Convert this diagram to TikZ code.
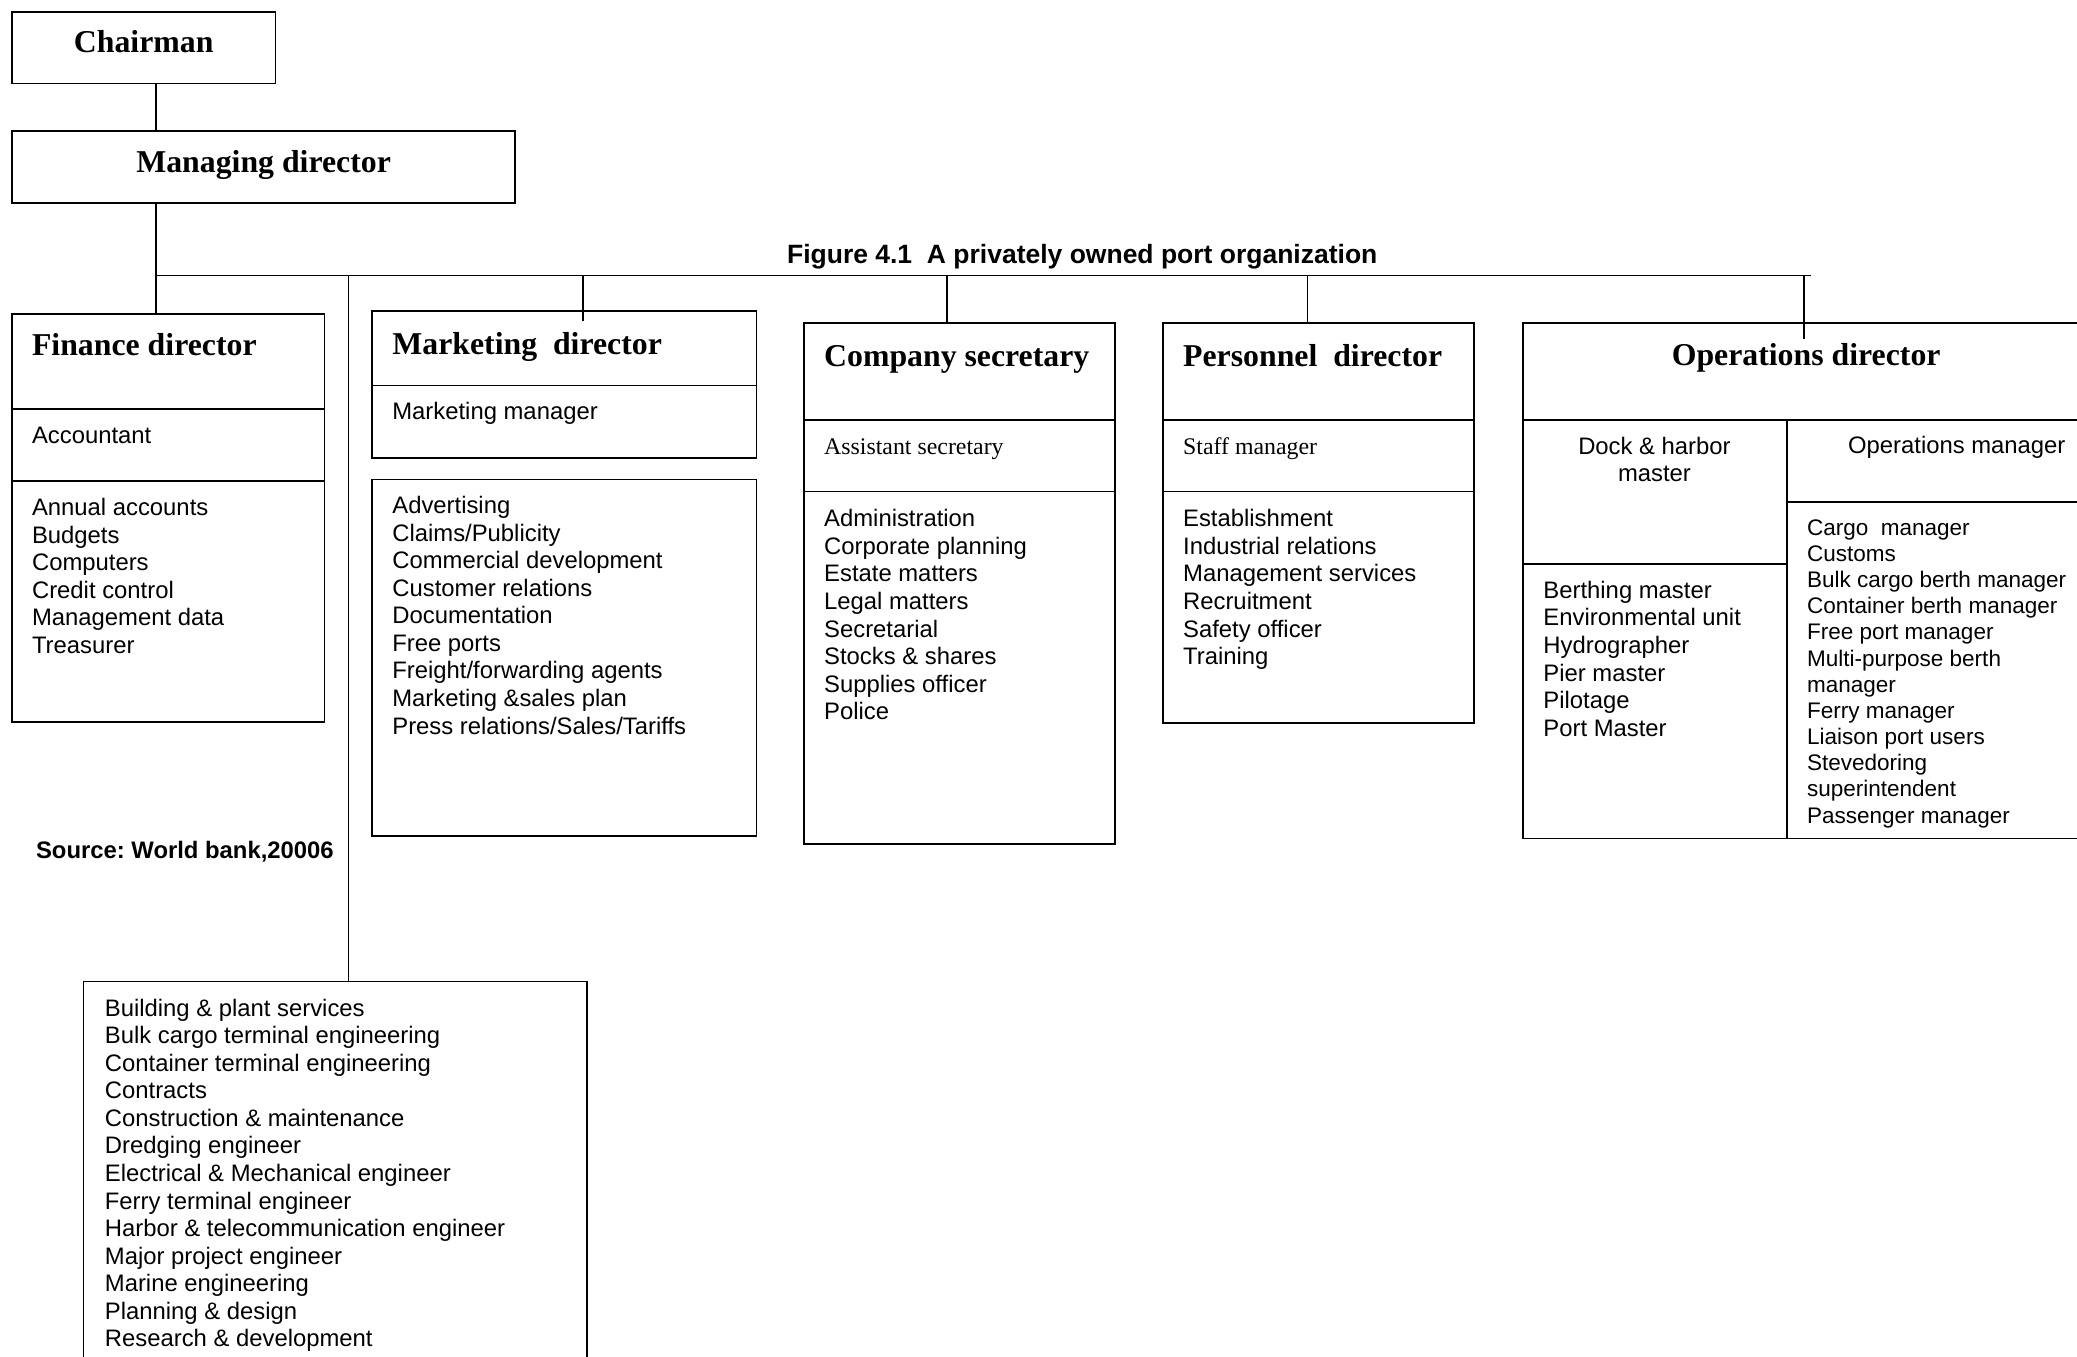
\documentclass[tikz,border=0pt]{standalone}
\usepackage{fontspec}
\setmainfont{Liberation Serif}
\setsansfont{Liberation Sans}
\frenchspacing
\begin{document}
\begin{tikzpicture}[x=1pt,y=-1pt,
  box/.style={draw, line width=1.3pt, rectangle, anchor=north west, inner sep=0pt, outer sep=0pt},
  wire/.style={line width=1.3pt},
  heading/.style={font=\fontsize{24}{28}\selectfont\bfseries, inner sep=0pt, anchor=base west},
  role/.style={font=\fontsize{18}{20.8}\selectfont, inner sep=0pt, anchor=base west},
  entries/.style={font=\sffamily\fontsize{18}{20.8}\selectfont, inner sep=0pt, anchor=north west, align=left},
  smallentries/.style={font=\sffamily\fontsize{17}{19.76}\selectfont, inner sep=0pt, anchor=north west, align=left},
  caption/.style={font=\sffamily\bfseries\fontsize{18}{21}\selectfont, inner sep=0pt, anchor=base west}]
\clip (0,0) rectangle (1568,1024);
\fill[white] (0,0) rectangle (1568,1024);

% top of the hierarchy
\node[box, minimum width=199pt, minimum height=54pt] (chair) at (9,9) {};
\node[box, minimum width=380pt, minimum height=54pt] (md) at (9,99) {};
\node[heading, anchor=base] (chairT) at (108.5,39.5) {Chairman};
\node[heading, anchor=base] (mdT) at (199,130) {Managing director};

% finance
\node[box, minimum width=236pt, minimum height=72pt] (finH) at (9,237) {};
\node[box, minimum width=236pt, minimum height=54pt] (finM) at (9,309) {};
\node[box, minimum width=236pt, minimum height=182pt] (finL) at (9,363) {};
\node[heading] (finT) at (24,268.5) {Finance director};
\node[entries] (finMT) at (24,320) {\strut Accountant};
\node[entries] (finLT) at (24,374.4) {\strut Annual accounts\\Budgets\\Computers\\Credit control\\Management data\\Treasurer};

% marketing
\node[box, minimum width=290pt, minimum height=56pt] (mktH) at (281,235) {};
\node[box, minimum width=290pt, minimum height=55pt] (mktM) at (281,291) {};
\node[box, minimum width=290pt, minimum height=269pt] (mktL) at (281,362) {};
\node[heading] (mktT) at (296,267.5) {Marketing~ director};
\node[entries] (mktMT) at (296,302) {\strut Marketing manager};
\node[entries] (mktLT) at (296,373) {\strut Advertising\\Claims/Publicity\\Commercial development\\Customer relations\\Documentation\\Free ports\\Freight/forwarding agents\\Marketing \&sales plan\\Press relations/Sales/Tariffs};

% company secretary
\node[box, minimum width=235pt, minimum height=73pt] (secH) at (607,244) {};
\node[box, minimum width=235pt, minimum height=54pt] (secM) at (607,317) {};
\node[box, minimum width=235pt, minimum height=266pt] (secL) at (607,371) {};
\node[heading] (secT) at (622,277) {Company secretary};
\node[role] (secMT) at (622,343) {Assistant secretary};
\node[entries] (secLT) at (622,383) {\strut Administration\\Corporate planning\\Estate matters\\Legal matters\\Secretarial\\Stocks \& shares\\Supplies officer\\Police};

% personnel
\node[box, minimum width=235pt, minimum height=73pt] (perH) at (878,244) {};
\node[box, minimum width=235pt, minimum height=54pt] (perM) at (878,317) {};
\node[box, minimum width=235pt, minimum height=175pt] (perL) at (878,371) {};
\node[heading] (perT) at (893,277) {Personnel~ director};
\node[role] (perMT) at (893,343) {Staff manager};
\node[entries] (perLT) at (893,383) {\strut Establishment\\Industrial relations\\Management services\\Recruitment\\Safety officer\\Training};

% operations
\node[box, minimum width=500pt, minimum height=73pt] (opsH) at (1150,244) {};
\node[box, minimum width=199pt, minimum height=109pt] (dockM) at (1150,317) {};
\node[box, minimum width=199pt, minimum height=207pt] (dockL) at (1150,426) {};
\node[box, minimum width=301pt, minimum height=62pt] (omM) at (1349,317) {};
\node[box, minimum width=301pt, minimum height=254pt] (omL) at (1349,379) {};
\node[heading, anchor=base] (opsT) at (1363.5,276) {Operations director};
\node[entries, anchor=north, align=center] (dockMT) at (1249,328) {\strut Dock \& harbor\\master};
\node[role, font=\sffamily\fontsize{18}{20.8}\selectfont] (omMT) at (1395,342) {Operations manager};
\node[entries] (dockLT) at (1165,437) {\strut Berthing master\\Environmental unit\\Hydrographer\\Pier master\\Pilotage\\Port Master};
\node[smallentries] (omLT) at (1364,390) {\strut Cargo~ manager\\Customs\\Bulk cargo berth manager\\Container berth manager\\Free port manager\\Multi-purpose berth\\manager\\Ferry manager\\Liaison port users\\Stevedoring\\superintendent\\Passenger manager};

% engineering
\node[box, minimum width=380pt, minimum height=330pt] (engL) at (63,741) {};
\node[entries] (engLT) at (79,752.4) {\strut Building \& plant services\\Bulk cargo terminal engineering\\Container terminal engineering\\Contracts\\Construction \& maintenance\\Dredging engineer\\Electrical \& Mechanical engineer\\Ferry terminal engineer\\Harbor \& telecommunication engineer\\Major project engineer\\Marine engineering\\Planning \& design\\Research \& development};

% captions
\node[caption, font=\sffamily\bfseries\fontsize{20}{24}\selectfont] (title) at (594,199) {Figure 4.1~ A privately owned port organization};
\node[caption] (source) at (27,648) {Source: World bank,20006};

% connectors
\coordinate (busL) at (118,208);
\coordinate (busR) at (1367,208);
\coordinate (engX) at (263,208);
\coordinate (mktX) at (440,208);
\coordinate (mktTip) at (440,242);
\coordinate (secX) at (715,208);
\coordinate (perX) at (987,208);
\coordinate (opsX) at (1362,208);
\coordinate (opsTip) at (1362,256);
\draw[wire] (chair.south -| busL) -- (md.north -| busL);
\draw[wire] (md.south -| busL) -- (finH.north -| busL);
\draw[wire] (busL) -- (busR);
\draw[wire] (engX) -- (engL.north -| engX);
\draw[wire] (mktX) -- (mktTip);
\draw[wire] (secX) -- (secH.north -| secX);
\draw[wire] (perX) -- (perH.north -| perX);
\draw[wire] (opsX) -- (opsTip);
\end{tikzpicture}
\end{document}
